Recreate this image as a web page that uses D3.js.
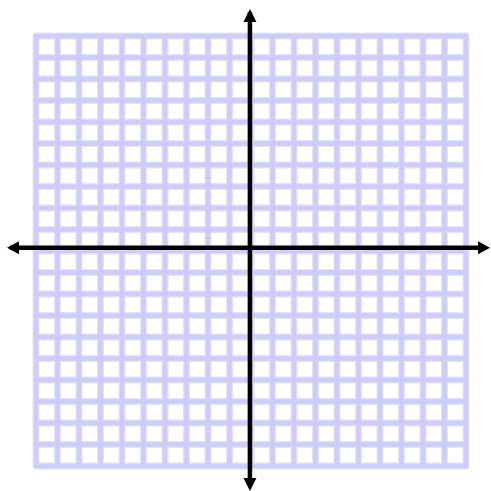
<!DOCTYPE html>
<html>
<head>
<meta charset="utf-8">
<script src="https://cdn.jsdelivr.net/npm/d3@7"></script>
<style>
html,body{margin:0;padding:0;background:#fff;}
svg{display:block;}
</style>
</head>
<body>
<svg id="chart" width="491" height="491"></svg>
<script>
const xDomain = [-10, 10];
const yDomain = [-10, 10];
const gridValues = d3.range(-10, 11, 1);
const axisOrigin = [-0.05, 0.15];

const svg = d3.select("#chart");
const x = d3.scaleLinear().domain(xDomain).range([36, 466]);
const y = d3.scaleLinear().domain(yDomain).range([466, 36]);

const defs = svg.append("defs");
defs.append("filter").attr("id","soft").attr("x","-10%").attr("y","-10%").attr("width","120%").attr("height","120%")
  .append("feGaussianBlur").attr("stdDeviation", 0.5);

const grid = svg.append("g").attr("filter","url(#soft)");
function drawGrid(color, width){
  const g = grid.append("g").attr("stroke", color).attr("stroke-width", width).attr("fill","none");
  g.selectAll("line.v").data(gridValues).join("line").attr("class","v")
    .attr("x1", d=>x(d)).attr("x2", d=>x(d)).attr("y1", y(yDomain[1]) - 2).attr("y2", y(yDomain[0]) + 2);
  g.selectAll("line.h").data(gridValues).join("line").attr("class","h")
    .attr("y1", d=>y(d)).attr("y2", d=>y(d)).attr("x1", x(xDomain[0]) - 2).attr("x2", x(xDomain[1]) + 2);
}
drawGrid("#e4e4ec", 7);
drawGrid("#ccccff", 4.5);

// axes
const ox = x(axisOrigin[0]), oy = y(axisOrigin[1]);
const axes = svg.append("g");
axes.append("line").attr("x1", 10).attr("x2", 481).attr("y1", oy).attr("y2", oy)
  .attr("stroke","#000").attr("stroke-width",4.5);
axes.append("line").attr("x1", ox).attr("x2", ox).attr("y1", 12).attr("y2", 481)
  .attr("stroke","#000").attr("stroke-width",4.5);
const head = (pts)=>axes.append("path").attr("d", d3.line()(pts)+"Z").attr("fill","#000");
head([[490,oy],[478,oy-6.5],[478,oy+6.5]]);
head([[7,oy],[19,oy-6.5],[19,oy+6.5]]);
head([[ox,9],[ox-6.5,22],[ox+6.5,22]]);
head([[ox,491],[ox-6.5,478],[ox+6.5,478]]);
</script>
</body>
</html>
